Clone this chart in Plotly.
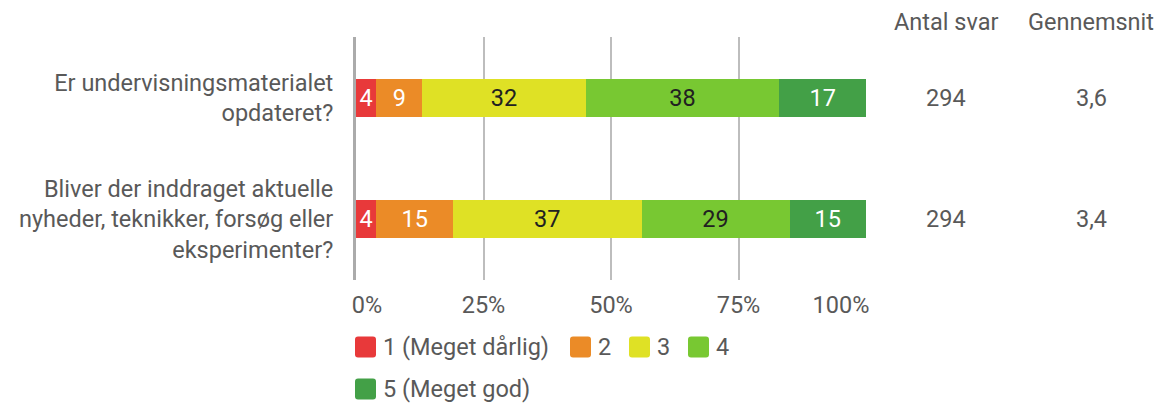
import plotly.graph_objects as go

questions = [
    "Er undervisningsmaterialet<br>opdateret?",
    "Bliver der inddraget aktuelle<br>nyheder, teknikker, forsøg eller<br>eksperimenter?",
]
series_names = ["1 (Meget dårlig)", "2", "3", "4", "5 (Meget god)"]
values = {
    "1 (Meget dårlig)": [4, 4],
    "2": [9, 15],
    "3": [32, 37],
    "4": [38, 29],
    "5 (Meget god)": [17, 15],
}
antal_svar = ["294", "294"]
gennemsnit = ["3,6", "3,4"]
tick_vals = [0, 25, 50, 75, 100]
tick_text = ["0%", "25%", "50%", "75%", "100%"]

colors = ["#E8393A", "#EB8B27", "#DFE125", "#78C832", "#43A047"]
text_colors = ["#FFFFFF", "#FFFFFF", "#212121", "#212121", "#FFFFFF"]
FONT = "Roboto"
FS = 23.5
GRAY = "#595959"

# layout geometry (pixels)
W, H = 1158, 405
PL, PR, PT, PB = 356, 866, 37, 280


def px_x(px):
    return (px - PL) / (PR - PL)


def px_y(py):
    return (PB - py) / (PB - PT)


fig = go.Figure()
for i, name in enumerate(series_names):
    fig.add_trace(go.Bar(
        y=questions,
        x=values[name],
        name=name,
        orientation="h",
        marker=dict(color=colors[i], line=dict(width=0)),
        text=[str(v) for v in values[name]],
        textposition="inside",
        insidetextanchor="middle",
        constraintext="none",
        textfont=dict(family=FONT, size=FS, color=text_colors[i]),
        showlegend=False,
        hoverinfo="skip",
    ))

annotations = []
shapes = []

# column headers and per-row values
header_x = [px_x(946), px_x(1091)]
for hx, title in zip(header_x, ["Antal svar", "Gennemsnit"]):
    annotations.append(dict(
        x=hx, xref="paper", y=px_y(22), yref="paper",
        text=title, showarrow=False,
        font=dict(family=FONT, size=FS, color=GRAY),
        xanchor="center", yanchor="middle",
    ))
for q, n, g in zip(questions, antal_svar, gennemsnit):
    for hx, t in zip(header_x, [n, g]):
        annotations.append(dict(x=hx, xref="paper", y=q, yref="y", text=t,
                                showarrow=False, font=dict(family=FONT, size=FS, color=GRAY),
                                xanchor="center", yanchor="middle"))

# legend (rounded square swatches + labels)
SW = 21
R = 3
h = SW / 2
swatch_path = (
    f"M{-h + R},{-h} H{h - R} Q{h},{-h} {h},{-h + R} V{h - R} Q{h},{h} {h - R},{h} "
    f"H{-h + R} Q{-h},{h} {-h},{h - R} V{-h + R} Q{-h},{-h} {-h + R},{-h} Z"
)
legend_left = [355, 570, 629, 688, 355]
legend_cy = [347, 347, 347, 347, 389]
for i, name in enumerate(series_names):
    cx = legend_left[i] + h
    cy = legend_cy[i]
    shapes.append(dict(
        type="path", xref="paper", yref="paper",
        xsizemode="pixel", ysizemode="pixel",
        xanchor=px_x(cx), yanchor=px_y(cy),
        path=swatch_path, fillcolor=colors[i], line=dict(width=0),
        layer="above",
    ))
    annotations.append(dict(
        x=px_x(legend_left[i] + SW + 5), xref="paper", y=px_y(cy), yref="paper",
        text=name, showarrow=False, xanchor="left", yanchor="middle",
        font=dict(family=FONT, size=FS, color=GRAY),
    ))

# tick label positions: first/last labels are kept inside the plot width
label_shift = {0: 2.16, 100: -4.9}
label_pos = [v + label_shift.get(v, 0) for v in tick_vals]

fig.update_layout(
    barmode="stack",
    bargap=0.69,
    width=W, height=H,
    margin=dict(l=PL, r=W - PR, t=PT, b=H - PB, pad=0),
    paper_bgcolor="white", plot_bgcolor="white",
    font=dict(family=FONT, size=FS, color=GRAY),
    showlegend=False,
    annotations=annotations,
    shapes=shapes,
    xaxis=dict(range=[0, 100], tickvals=label_pos, ticktext=tick_text,
               showgrid=False, zeroline=False, showline=False, ticks="",
               ticklabelstandoff=8,
               minor=dict(tickvals=tick_vals, showgrid=True, gridcolor="#BDBDBD",
                          gridwidth=2, ticks=""),
               tickfont=dict(family=FONT, size=FS, color=GRAY), fixedrange=True),
    yaxis=dict(autorange="reversed", showline=True, linecolor="#ABABAB", linewidth=3,
               ticks="", showgrid=False, ticklabelstandoff=15,
               tickfont=dict(family=FONT, size=FS, color=GRAY), fixedrange=True),
)

fig.write_html("out.html", config={"displayModeBar": False},
               post_script="document.body.style.margin='0';")
